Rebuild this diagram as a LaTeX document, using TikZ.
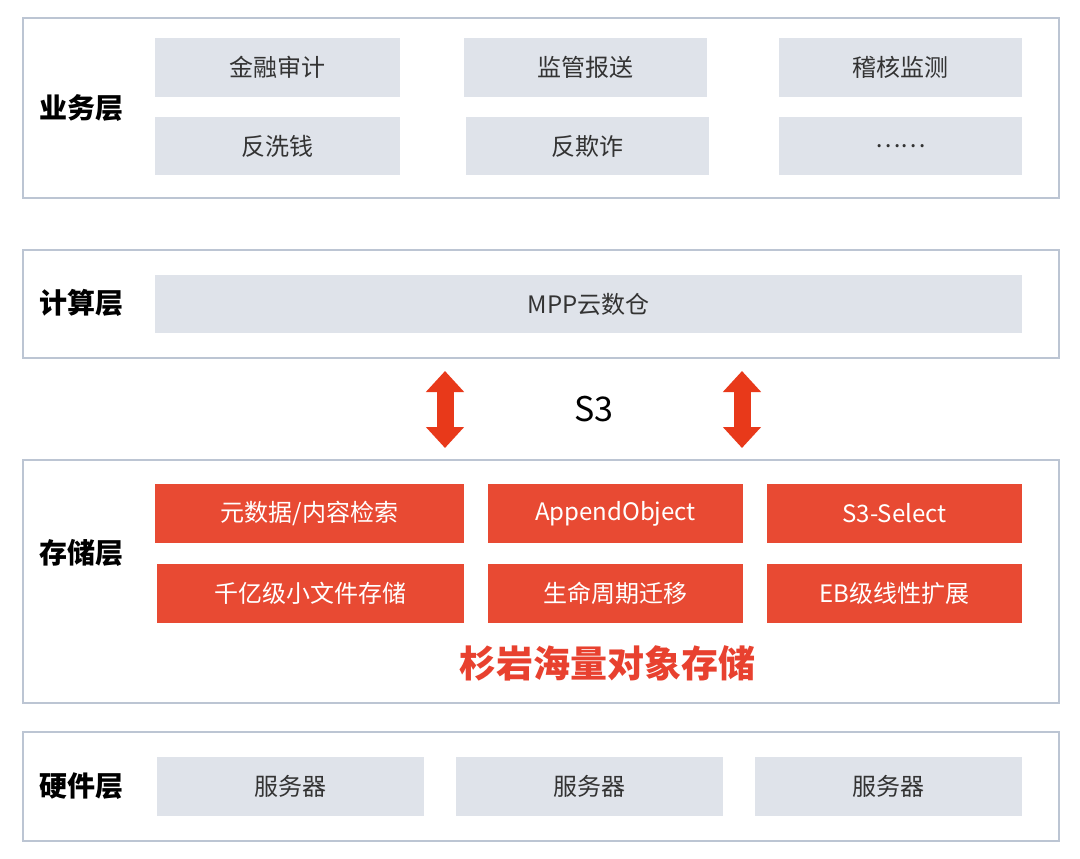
\documentclass[tikz,border=0pt]{standalone}
\usepackage{fontspec}
\setmainfont{Noto Sans CJK SC}
\usetikzlibrary{arrows.meta}
\definecolor{layerline}{HTML}{BCC5D3}
\definecolor{grayfill}{HTML}{DFE3EA}
\definecolor{redfill}{HTML}{E84A33}
\definecolor{arrowred}{HTML}{E8391A}
\definecolor{titlered}{HTML}{E8412F}
\definecolor{darktext}{HTML}{333333}
\begin{document}
\begin{tikzpicture}[x=1pt,y=-1pt,
  layer/.style={draw=layerline,line width=2pt,fill=white,minimum width=1036pt,inner sep=0pt},
  graybox/.style={fill=grayfill,text=darktext,font=\fontsize{24}{28}\selectfont,minimum height=59pt,inner sep=0pt},
  redbox/.style={fill=redfill,text=white,font=\fontsize{24}{28}\selectfont,minimum height=59pt,inner sep=0pt},
  lbl/.style={font=\fontsize{28}{32}\selectfont\bfseries,text=black},
  bigarrow/.style={draw=arrowred,line width=17pt,{Triangle[width=37pt,length=21pt]}-{Triangle[width=37pt,length=21pt]}}
]
\useasboundingbox (0,0) rectangle (1080,859);
\fill[white] (0,0) rectangle (1080,859);

% layers
\node[layer,minimum height=180pt] (L1) at (541,108) {};
\node[layer,minimum height=108pt] (L2) at (541,304) {};
\node[layer,minimum height=243pt] (L3) at (541,581.5) {};
\node[layer,minimum height=109pt] (L4) at (541,786.5) {};

% labels
\node[lbl] (t1) at (81,108) {业务层};
\node[lbl] (t2) at (81,303) {计算层};
\node[lbl] (t3) at (81,553) {存储层};
\node[lbl] (t4) at (81,786) {硬件层};

% business
\node[graybox,minimum width=245pt] (b1) at (277.5,67.5) {金融审计};
\node[graybox,minimum width=243pt] (b2) at (585.5,67.5) {监管报送};
\node[graybox,minimum width=243pt] (b3) at (900.5,67.5) {稽核监测};
\node[graybox,minimum width=245pt,minimum height=58pt] (b4) at (277.5,146) {反洗钱};
\node[graybox,minimum width=243pt,minimum height=58pt] (b5) at (587.5,146) {反欺诈};
\node[graybox,minimum width=243pt,minimum height=58pt] (b6) at (900.5,146) {……};

% compute
\node[graybox,minimum width=867pt,minimum height=58pt] (c1) at (588.5,304) {MPP云数仓};

% arrows
\coordinate (a1t) at (445,371);
\coordinate (a1b) at (445,448);
\coordinate (a2t) at (742,371);
\coordinate (a2b) at (742,448);
\draw[bigarrow] (a1t) -- (a1b);
\draw[bigarrow] (a2t) -- (a2b);
\node[font=\fontsize{34}{38}\selectfont,text=black] (s3) at (594,409) {S3};

% storage
\node[redbox,minimum width=309pt] (s1) at (309.5,513.5) {元数据/内容检索};
\node[redbox,minimum width=255pt] (s2) at (615.5,513.5) {AppendObject};
\node[redbox,minimum width=255pt] (s3b) at (894.5,513.5) {S3-Select};
\node[redbox,minimum width=307pt] (s4) at (310.5,593.5) {千亿级小文件存储};
\node[redbox,minimum width=255pt] (s5) at (615.5,593.5) {生命周期迁移};
\node[redbox,minimum width=255pt] (s6) at (894.5,593.5) {EB级线性扩展};
\node[font=\fontsize{37}{40}\selectfont\bfseries,text=titlered] (title) at (607,663) {杉岩海量对象存储};

% hardware
\node[graybox,minimum width=267pt] (h1) at (290.5,786.5) {服务器};
\node[graybox,minimum width=267pt] (h2) at (589.5,786.5) {服务器};
\node[graybox,minimum width=267pt] (h3) at (888.5,786.5) {服务器};
\end{tikzpicture}
\end{document}
